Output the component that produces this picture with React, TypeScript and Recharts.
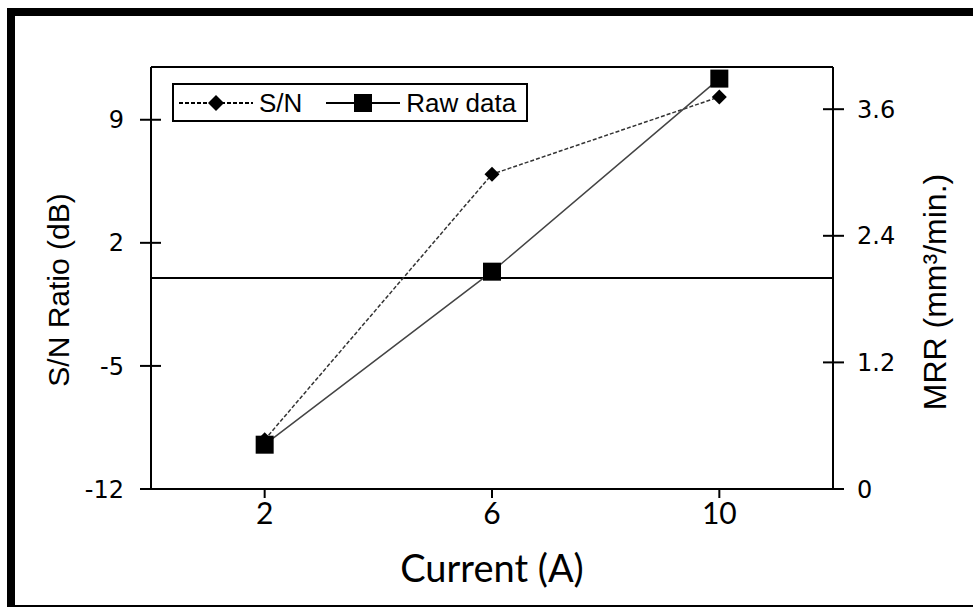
import React from "react";
import { LineChart, Line, XAxis, YAxis, ReferenceLine, Legend, Label } from "recharts";

// readings
const currents = [2, 6, 10];
const snRatio = [-9.2, 5.9, 10.3];
const rawMrr = [0.42, 2.06, 3.89];

const currentTicks = [2, 6, 10];
const snTicks = [-12, -5, 2, 9];
const mrrTicks = [0, 1.2, 2.4, 3.6];

const legendOrder = ["sn", "raw"];

const data = currents.map((c, i) => ({ current: c, sn: snRatio[i], raw: rawMrr[i] }));

const TICK_OUT = 11;
const TICK_IN = 10;
const LEFT_MARGIN = 16;
const RIGHT_MARGIN = 13;

// y ticks cross the axis line, so draw the mark with the label
const makeYTick = (side: "left" | "right", gap: number) => (props: any) => {
  const { x, y, payload } = props;
  const axisX = side === "left" ? x + TICK_OUT + gap : x - TICK_OUT - gap;
  const x1 = side === "left" ? axisX - TICK_OUT : axisX - TICK_IN;
  const x2 = side === "left" ? axisX + TICK_IN : axisX + TICK_OUT;
  return (
    <g>
      <line x1={x1} x2={x2} y1={y} y2={y} stroke="#000" strokeWidth={2} />
      <text
        x={x}
        y={y}
        dy="0.36em"
        textAnchor={side === "left" ? "end" : "start"}
        fontFamily="DejaVu Sans"
        fontSize={24}
        fill="#000"
      >
        {payload.value}
      </text>
    </g>
  );
};

const Diamond = (props: any) => {
  const { cx, cy } = props;
  if (cx == null || cy == null) return null;
  const r = 7.5;
  return <path d={`M${cx},${cy - r}L${cx + r},${cy}L${cx},${cy + r}L${cx - r},${cy}Z`} fill="#000" />;
};

const Square = (props: any) => {
  const { cx, cy } = props;
  if (cx == null || cy == null) return null;
  const s = 9;
  return <rect x={cx - s} y={cy - s} width={s * 2} height={s * 2} fill="#000" />;
};

const LegendBox = (props: any) => {
  const items = [...(props.payload || [])].sort(
    (a: any, b: any) => legendOrder.indexOf(a.dataKey) - legendOrder.indexOf(b.dataKey)
  );
  return (
    <div
      style={{
        width: 356,
        height: 39,
        boxSizing: "border-box",
        border: "2px solid #000",
        display: "flex",
        alignItems: "center",
        paddingLeft: 5,
        fontFamily: "Liberation Sans",
        fontSize: 26,
        color: "#000",
        background: "#fff",
      }}
    >
      {items.map((it: any, i: number) => {
        const dashed = it.dataKey === "sn";
        return (
          <div key={it.value} style={{ display: "flex", alignItems: "center", marginLeft: i === 0 ? 0 : 24 }}>
            <svg width={74} height={22}>
              <line x1={0} y1={11} x2={74} y2={11} stroke="#000" strokeWidth={2} strokeDasharray={dashed ? "4 2" : undefined} />
              {dashed ? (
                <path d="M37,3L45,11L37,19L29,11Z" fill="#000" />
              ) : (
                <rect x={28} y={2} width={18} height={18} fill="#000" />
              )}
            </svg>
            <span style={{ marginLeft: 6, lineHeight: "26px" }}>{it.value}</span>
          </div>
        );
      })}
    </div>
  );
};

export default function App() {
  return (
    <div style={{ position: "fixed", left: 0, top: 0, width: 973, height: 608, background: "#fff", overflow: "hidden" }}>
      <div
        style={{
          position: "absolute",
          left: 7,
          top: 8,
          width: 1000,
          height: 599,
          boxSizing: "border-box",
          borderTop: "8px solid #000",
          borderLeft: "8px solid #000",
          borderBottom: "2px solid #000",
        }}
      />
      <div style={{ position: "absolute", left: 0, top: 0 }}>
        <LineChart width={973} height={608} data={data} margin={{ top: 67, right: 60, bottom: 29, left: 71 }}>
          <XAxis
            dataKey="current"
            type="number"
            domain={[0, 12]}
            ticks={currentTicks}
            height={90}
            tickSize={9}
            tickMargin={5}
            stroke="#000"
            strokeWidth={2}
            tick={{ fontFamily: "Lato", fontSize: 30, fill: "#000" }}
          >
            <Label value="Current (A)" position="center" dy={35} style={{ fontFamily: "Lato", fontSize: 38, fill: "#000" }} />
          </XAxis>
          <YAxis
            yAxisId="left"
            orientation="left"
            width={80}
            domain={[-12, 12]}
            ticks={snTicks}
            tickSize={TICK_OUT}
            tickMargin={LEFT_MARGIN}
            tickLine={false}
            stroke="#000"
            strokeWidth={2}
            tick={makeYTick("left", LEFT_MARGIN)}
          >
            <Label
              value="S/N Ratio (dB)"
              angle={-90}
              position="center"
              dx={-53}
              dy={12}
              style={{ fontFamily: "Liberation Sans", fontSize: 30, fill: "#000" }}
            />
          </YAxis>
          <YAxis
            yAxisId="right"
            orientation="right"
            width={80}
            domain={[0, 4]}
            ticks={mrrTicks}
            tickSize={TICK_OUT}
            tickMargin={RIGHT_MARGIN}
            tickLine={false}
            stroke="#000"
            strokeWidth={2}
            tick={makeYTick("right", RIGHT_MARGIN)}
          >
            <Label
              value="MRR (mm³/min.)"
              angle={-90}
              position="center"
              dx={62}
              dy={14}
              style={{ fontFamily: "Liberation Sans", fontSize: 32, fill: "#000" }}
            />
          </YAxis>
          <ReferenceLine yAxisId="left" y={12} stroke="#000" strokeWidth={2} />
          <ReferenceLine yAxisId="left" y={0} stroke="#000" strokeWidth={2} />
          <Legend
            layout="vertical"
            align="center"
            verticalAlign="middle"
            content={<LegendBox />}
            wrapperStyle={{ left: 172, top: 83, width: 356, height: 39 }}
          />
          <Line
            yAxisId="left"
            dataKey="sn"
            name="S/N"
            stroke="#333"
            strokeWidth={1.5}
            strokeDasharray="4 2"
            dot={<Diamond />}
            activeDot={false}
            isAnimationActive={false}
          />
          <Line
            yAxisId="right"
            dataKey="raw"
            name="Raw data"
            stroke="#444"
            strokeWidth={1.5}
            dot={<Square />}
            activeDot={false}
            isAnimationActive={false}
          />
        </LineChart>
      </div>
    </div>
  );
}
